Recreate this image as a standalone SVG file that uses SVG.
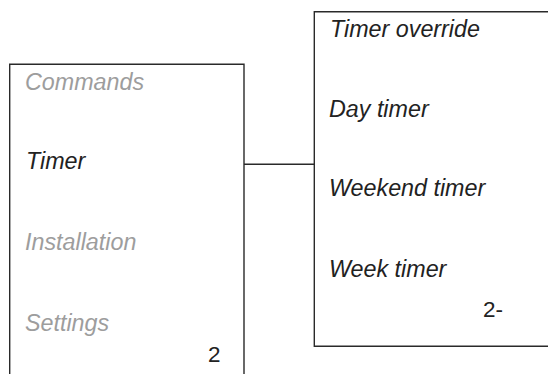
<svg xmlns="http://www.w3.org/2000/svg" width="548" height="374" viewBox="0 0 548 374">
<style>
.box{fill:none;stroke:#2a2a2a;stroke-width:1.4}
.t{font-family:"Liberation Sans",Arial,sans-serif;font-size:23.3px;font-style:italic;fill:#222}
.g{fill:#9d9d9d}
.n{font-family:"Liberation Sans",Arial,sans-serif;font-size:22.5px;fill:#222}
.c{fill:none;stroke:#2a2a2a;stroke-width:1.4}
</style>
<g id="menu">
<path class="box" d="M9.7,380 V64.3 H244 V380"/>
<text class="t g" x="25" y="89.5">Commands</text>
<text class="t" x="26" y="168.5">Timer</text>
<text class="t g" x="25" y="249.5">Installation</text>
<text class="t g" x="25" y="331">Settings</text>
<text class="n" x="208" y="361.5">2</text>
</g>
<g id="timer-menu">
<path class="box" d="M560,11.7 H314.3 V346.3 H560"/>
<text class="t" x="330" y="36.5">Timer override</text>
<text class="t" x="329" y="116.5">Day timer</text>
<text class="t" x="329" y="195.5">Weekend timer</text>
<text class="t" x="329" y="276.5">Week timer</text>
<text class="n" x="483" y="316.5">2-</text>
</g>
<g id="connectors">
<line class="c" x1="244" y1="164.3" x2="314.3" y2="164.3"/>
</g>
</svg>
